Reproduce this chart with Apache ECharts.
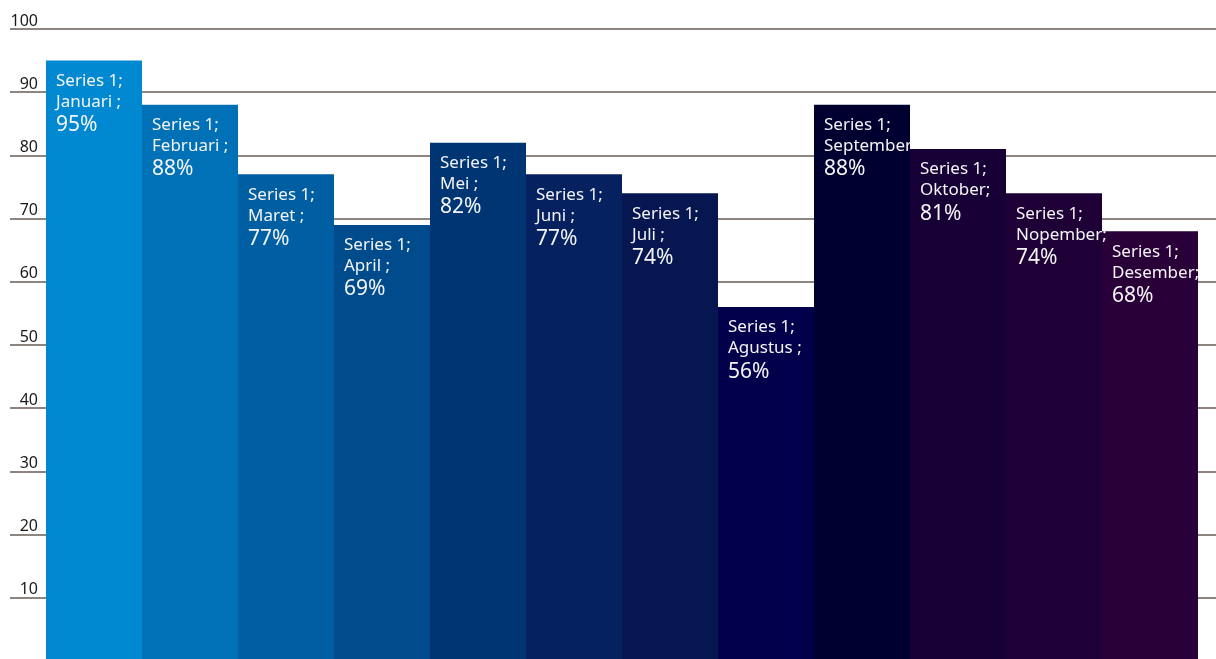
<!DOCTYPE html>
<html>
<head>
<meta charset="utf-8">
<title>Series 1</title>
<script src="https://cdn.jsdelivr.net/npm/echarts@6/dist/echarts.min.js"></script>
<style>
  html, body { margin: 0; padding: 0; background: #ffffff; overflow: hidden; }
  /* the zero line sits just below the visible area */
  #chart { width: 1216px; height: 664px; }
</style>
</head>
<body>
<div id="chart"></div>
<script>
// Monthly percentages for Series 1
const seriesName = 'Series 1';
const months = ['Januari', 'Februari', 'Maret', 'April', 'Mei', 'Juni',
                'Juli', 'Agustus', 'September', 'Oktober', 'Nopember', 'Desember'];
const separators = [' ;', ' ;', ' ;', ' ;', ' ;', ' ;', ' ;', ' ;', '', ';', ';', ';'];
const values = [95, 88, 77, 69, 82, 77, 74, 56, 88, 81, 74, 68];
const yTicks = [0, 10, 20, 30, 40, 50, 60, 70, 80, 90, 100];

// Blue-to-purple fill, one shade per month
const barColors = ['#0088d0', '#0071b6', '#005fa2', '#004b8c', '#003574', '#05215f',
                   '#061650', '#02004a', '#000030', '#160036', '#1e0036', '#2a0038'];

const FONT = '"Noto Sans", "Open Sans", sans-serif';

const chart = echarts.init(document.getElementById('chart'), null, { renderer: 'canvas' });

const option = {
  animation: false,
  backgroundColor: '#ffffff',
  grid: [
    // wide grid: carries the horizontal rules across the full width
    { left: 10, right: 0, top: 29, bottom: 3 },
    // bar grid: 12 bands of 96 px
    { left: 46, width: 1152, top: 29, bottom: 3 }
  ],
  xAxis: [
    { gridIndex: 0, type: 'value', min: 0, max: 1, show: false },
    { gridIndex: 1, type: 'category', data: months, show: false, boundaryGap: true }
  ],
  yAxis: [
    {
      gridIndex: 0, type: 'value', z: 0,
      min: yTicks[0], max: yTicks[yTicks.length - 1], interval: 10,
      axisLine: { show: false }, axisTick: { show: false }, axisLabel: { show: false },
      splitLine: { show: true, lineStyle: { color: '#6a5c56', width: 1.5 } }
    },
    {
      gridIndex: 1, type: 'value',
      min: yTicks[0], max: yTicks[yTicks.length - 1], interval: 10,
      axisLine: { show: false }, axisTick: { show: false }, splitLine: { show: false },
      axisLabel: {
        show: true,
        margin: 8,
        align: 'right',
        verticalAlign: 'bottom',
        color: '#1a1a1a',
        fontFamily: FONT,
        fontSize: 16,
        lineHeight: 16,
        formatter: v => (yTicks.indexOf(v) > 0 ? String(v) : '')
      }
    }
  ],
  series: [{
    name: seriesName,
    type: 'bar',
    xAxisIndex: 1,
    yAxisIndex: 1,
    zlevel: 1,
    barCategoryGap: '0%',
    barGap: '0%',
    data: values.map((v, i) => ({
      value: v,
      itemStyle: { color: barColors[i] }
    })),
    label: {
      show: true,
      position: 'insideTopLeft',
      distance: 10,
      color: '#f4f4f4',
      fontFamily: FONT,
      formatter: p => '{a|' + seriesName + ';}\n{a|' + p.name + separators[p.dataIndex] + '}\n{b|' + p.value + '%}',
      rich: {
        a: { fontFamily: FONT, fontSize: 17, lineHeight: 21, color: '#f4f4f4' },
        b: { fontFamily: FONT, fontSize: 21, lineHeight: 25, color: '#f4f4f4' }
      }
    }
  }]
};

chart.setOption(option);
</script>
</body>
</html>
